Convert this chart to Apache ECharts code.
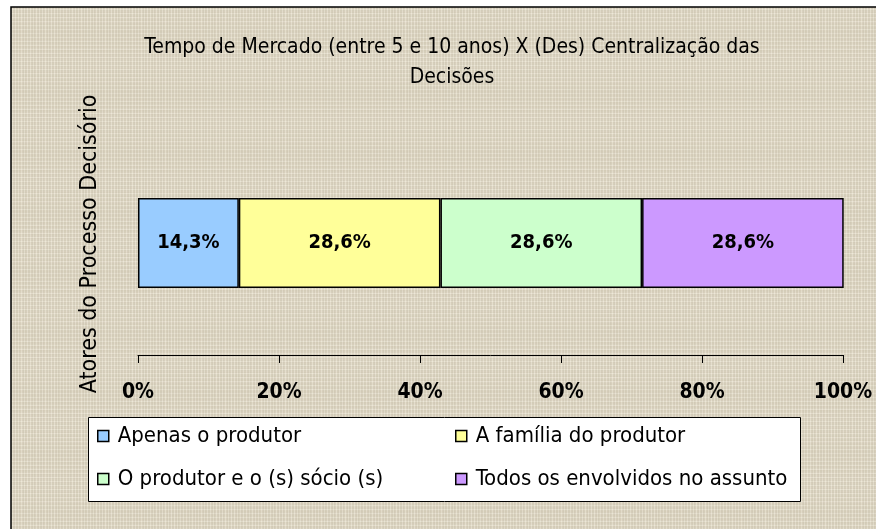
<!DOCTYPE html>
<html>
<head>
<meta charset="utf-8">
<script src="https://cdn.jsdelivr.net/npm/echarts@6/dist/echarts.min.js"></script>
<style>
  html, body { margin: 0; padding: 0; background: #ffffff; }
  #chart { width: 876px; height: 529px; }
</style>
</head>
<body>
<div id="chart"></div>
<script>
// Share of each decision-making actor (percent)
const categories = ['Atores'];
const seriesNames = [
  'Apenas o produtor',
  'A família do produtor',
  'O produtor e o (s) sócio (s)',
  'Todos os envolvidos no assunto'
];
const seriesValues = [
  [14.3],
  [28.6],
  [28.6],
  [28.6]
];
const seriesColors = ['#99ccff', '#ffff99', '#ccffcc', '#cc99ff'];
const tickLabels = ['0%', '20%', '40%', '60%', '80%', '100%'];

const FONT = '"DejaVu Sans Condensed", "Liberation Sans Narrow", "Arial Narrow", sans-serif';

// Woven beige texture for the chart area
function makeTexture() {
  const c = document.createElement('canvas');
  c.width = 60; c.height = 60;
  const g = c.getContext('2d');
  g.fillStyle = '#e3dcca';
  g.fillRect(0, 0, 60, 60);
  for (let i = 0; i < 60; i++) {
    const a = 0.12 + 0.14 * Math.abs(Math.sin(i * 1.7 + 0.3));
    g.fillStyle = (i % 3 === 0) ? 'rgba(250,247,236,' + a + ')' : 'rgba(140,128,105,' + (a * 0.45) + ')';
    g.fillRect(i, 0, 1, 60);
    const b = 0.12 + 0.14 * Math.abs(Math.cos(i * 2.3 + 1.1));
    g.fillStyle = (i % 4 === 1) ? 'rgba(250,247,236,' + b + ')' : 'rgba(140,128,105,' + (b * 0.35) + ')';
    g.fillRect(0, i, 60, 1);
  }
  return c;
}

const chart = echarts.init(document.getElementById('chart'));

const legends = seriesNames.map((name, i) => ({
  data: [name],
  left: i % 2 === 0 ? 97 : 455,
  top: i < 2 ? 425 : 468,
  padding: 0,
  itemWidth: 11,
  itemHeight: 11,
  itemGap: 0,
  icon: 'rect',
  selectedMode: false,
  itemStyle: { borderColor: '#000', borderWidth: 1.5 },
  textStyle: { fontFamily: FONT, fontSize: 22, color: '#000', padding: [0, 0, 0, 4] }
}));

const option = {
  animation: false,
  graphic: [
    {
      type: 'rect', z: -10, silent: true,
      shape: { x: 11, y: 7, width: 900, height: 600 },
      style: { fill: { image: makeTexture(), repeat: 'repeat' }, stroke: '#000', lineWidth: 1.5 }
    },
    {
      type: 'rect', z: 0, silent: true,
      shape: { x: 88.5, y: 417.5, width: 712, height: 84 },
      style: { fill: '#ffffff', stroke: '#000', lineWidth: 1 }
    },
    {
      type: 'text', z: 5, silent: true,
      x: 90, y: 244, rotation: Math.PI / 2,
      style: {
        text: 'Atores do Processo Decisório',
        fontFamily: FONT, fontSize: 23, fill: '#000',
        align: 'center', verticalAlign: 'middle'
      }
    }
  ],
  title: {
    text: 'Tempo de Mercado (entre 5 e 10 anos) X (Des) Centralização das\nDecisões',
    left: 447,
    top: 28,
    textAlign: 'center',
    textStyle: { fontFamily: FONT, fontSize: 21, fontWeight: 'normal', color: '#000', lineHeight: 30 }
  },
  legend: legends,
  grid: { left: 138, right: 33, top: 131, bottom: 529 - 355, containLabel: false },
  xAxis: {
    type: 'value',
    min: 0, max: 100, interval: 20,
    axisLine: { show: true, lineStyle: { color: '#000', width: 1 } },
    axisTick: { show: true, length: 8, lineStyle: { color: '#000', width: 1 } },
    splitLine: { show: false },
    axisLabel: {
      margin: 27,
      fontFamily: FONT, fontSize: 21, fontWeight: 'bold', color: '#000',
      formatter: v => tickLabels[Math.round(v / 20)]
    }
  },
  yAxis: {
    type: 'category',
    data: categories,
    axisLine: { show: false },
    axisTick: { show: false },
    axisLabel: { show: false }
  },
  series: seriesNames.map((name, i) => ({
    name: name,
    type: 'bar',
    stack: 'total',
    barWidth: 90,
    data: seriesValues[i],
    itemStyle: { color: seriesColors[i], borderColor: '#000', borderWidth: 1.5 },
    label: {
      show: true,
      position: 'inside',
      fontFamily: FONT, fontSize: 20, fontWeight: 'bold', color: '#000',
      formatter: p => p.value.toFixed(1).replace('.', ',') + '%'
    }
  }))
};

chart.setOption(option);
</script>
</body>
</html>
